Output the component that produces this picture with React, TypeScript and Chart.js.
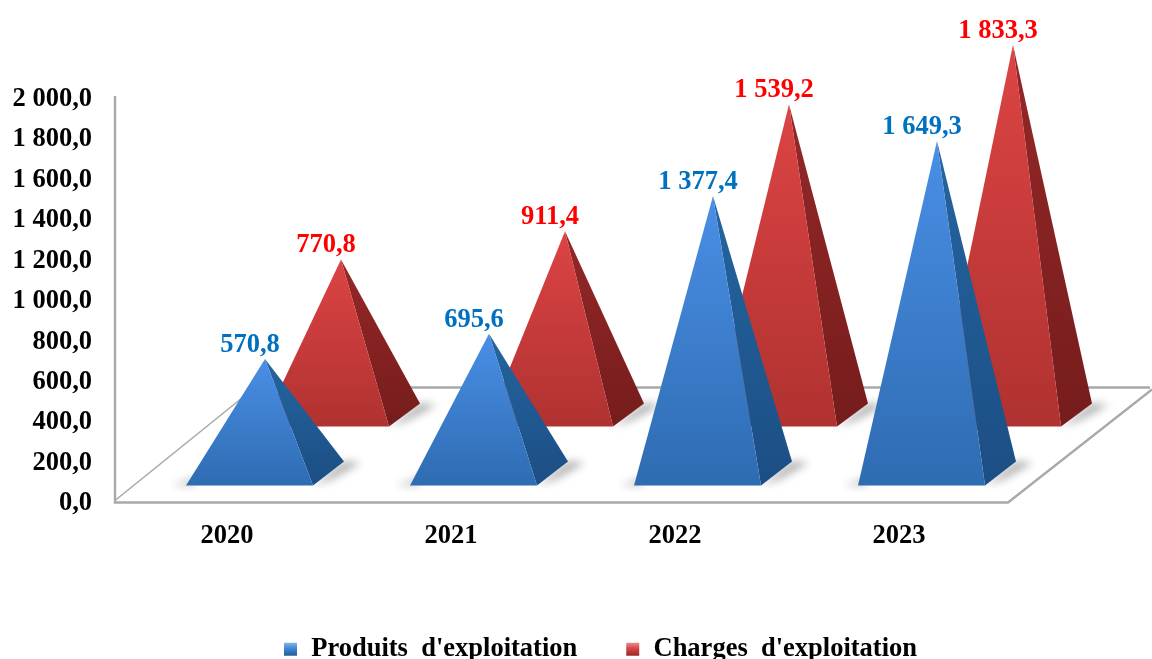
import React, { useEffect, useRef } from "react";
import { Chart, registerables } from "chart.js";

Chart.register(...registerables);

const categories = ["2020", "2021", "2022", "2023"];
const produits = [570.8, 695.6, 1377.4, 1649.3];
const charges = [770.8, 911.4, 1539.2, 1833.3];
const seriesNames = ["Produits  d'exploitation", "Charges  d'exploitation"];
const labelColors = ["#0070C0", "#FF0000"];

const FONT = '"Liberation Serif", serif';
const TEXT_SIZE = 26.5;
// [front top, front bottom, side top, side bottom]
const palette = [
  ["#4a8fe6", "#2e6cb2", "#24659f", "#1c4e84"],
  ["#dc4444", "#b03230", "#952828", "#761c1c"],
];
const depth = [
  { lift: 26, frontY: 15, backY: 39 },
  { lift: 85, frontY: 74, backY: 97 },
];

function fmt(v: number): string {
  const [i, d] = v.toFixed(1).split(".");
  return i.replace(/\B(?=(\d{3})+$)/g, " ") + "," + d;
}

function marker(a: string, b: string, c: string): HTMLCanvasElement {
  const cv = document.createElement("canvas");
  cv.width = 15;
  cv.height = 15;
  const g = cv.getContext("2d")!;
  const gr = g.createLinearGradient(0, 0, 0, 15);
  gr.addColorStop(0, c);
  gr.addColorStop(0.45, a);
  gr.addColorStop(1, b);
  g.fillStyle = gr;
  g.fillRect(1, 1, 13, 13);
  return cv;
}

function poly(ctx: CanvasRenderingContext2D, pts: number[][], fill: any) {
  ctx.beginPath();
  pts.forEach((p, i) => (i ? ctx.lineTo(p[0], p[1]) : ctx.moveTo(p[0], p[1])));
  ctx.closePath();
  ctx.fillStyle = fill;
  ctx.fill();
}

const pyramids = {
  id: "pyramids",
  afterLayout(chart: any) {
    if (chart.legend) {
      chart.legend.left = 48;
      chart.legend.right = 1152;
      chart.legend.top = 588;
    }
  },
  beforeDatasetsDraw(chart: any) {
    const { ctx, chartArea: a } = chart;
    ctx.save();
    ctx.strokeStyle = "#a9a9a9";
    ctx.lineWidth = 2.4;
    ctx.beginPath();
    ctx.moveTo(a.left, a.top);
    ctx.lineTo(a.left, a.bottom + 2);
    ctx.lineTo(a.right - 3, a.bottom + 2);
    ctx.lineTo(a.right + 141, a.bottom - 111);
    ctx.stroke();
    ctx.lineWidth = 1.6;
    ctx.beginPath();
    ctx.moveTo(a.left, a.bottom);
    ctx.lineTo(a.left + 140, a.bottom - 113);
    ctx.stroke();
    ctx.lineWidth = 2.6;
    ctx.beginPath();
    ctx.moveTo(a.left + 140, a.bottom - 113);
    ctx.lineTo(a.right + 139, a.bottom - 113);
    ctx.stroke();
    ctx.restore();
  },
  afterDatasetsDraw(chart: any) {
    const { ctx, chartArea: a } = chart;
    [1, 0].forEach((ds) => {
      const meta = chart.getDatasetMeta(ds);
      const c = palette[ds];
      const d = depth[ds];
      meta.data.forEach((bar: any) => {
        const ax = bar.x + 76;
        const ay = bar.y - d.lift;
        const fy = a.bottom - d.frontY;
        const by = a.bottom - d.backY;
        const fl = ax - 79;
        const fr = ax + 48;
        const br = ax + 79;
        ctx.save();
        ctx.filter = "blur(4px)";
        poly(ctx, [[fr, fy], [br, by], [br + 17, by + 1], [fr + 18, fy - 6]], "rgba(90,90,90,0.5)");
        poly(ctx, [[fl - 14, fy], [fl + 6, fy], [fl + 14, fy - 10]], "rgba(90,90,90,0.4)");
        ctx.filter = "blur(0.6px)";
        const gs = ctx.createLinearGradient(0, ay, 0, fy);
        gs.addColorStop(0, c[2]);
        gs.addColorStop(1, c[3]);
        poly(ctx, [[ax, ay], [fr, fy], [br, by]], gs);
        const gf = ctx.createLinearGradient(0, ay, 0, fy);
        gf.addColorStop(0, c[0]);
        gf.addColorStop(1, c[1]);
        poly(ctx, [[ax, ay], [fl, fy], [fr, fy]], gf);
        ctx.restore();
      });
    });
    ctx.save();
    ctx.font = `bold ${TEXT_SIZE}px ${FONT}`;
    ctx.textAlign = "center";
    ctx.textBaseline = "middle";
    [0, 1].forEach((ds) => {
      const meta = chart.getDatasetMeta(ds);
      ctx.fillStyle = labelColors[ds];
      meta.data.forEach((bar: any, i: number) => {
        const v = chart.data.datasets[ds].data[i];
        ctx.fillText(fmt(v), bar.x + 61, bar.y - depth[ds].lift - 14);
      });
    });
    ctx.restore();
  },
};

export default function App() {
  const ref = useRef<HTMLCanvasElement>(null);
  useEffect(() => {
    const markers = [marker("#3f86d6", "#1f568f", "#8fc0ee"), marker("#d84545", "#8f2424", "#ee9a9a")];
    const chart = new Chart(ref.current!, {
      type: "bar",
      data: {
        labels: categories,
        datasets: [
          { label: seriesNames[0], data: produits, backgroundColor: "transparent" },
          { label: seriesNames[1], data: charges, backgroundColor: "transparent" },
        ],
      },
      plugins: [pyramids],
      options: {
        animation: false,
        responsive: false,
        events: [],
        layout: { padding: { top: 96, right: 141, left: 0, bottom: 0 } },
        datasets: { bar: { categoryPercentage: 152 / 224, barPercentage: 1 } },
        scales: {
          x: {
            grid: { display: false },
            border: { display: false },
            ticks: { color: "#000", font: { family: FONT, size: TEXT_SIZE, weight: "bold" }, padding: 12, maxRotation: 0 },
            afterFit(s: any) { s.height = 74; },
          },
          y: {
            min: 0,
            max: 2000,
            grid: { display: false },
            border: { display: false },
            ticks: {
              stepSize: 200,
              autoSkip: false,
              color: "#000",
              padding: 15,
              labelOffset: 3,
              font: { family: FONT, size: TEXT_SIZE, weight: "bold" },
              callback: (v: any) => fmt(Number(v)),
            },
            afterFit(s: any) { s.width = 115; },
          },
        },
        plugins: {
          tooltip: { enabled: false },
          title: { display: false },
          legend: {
            position: "bottom",
            labels: {
              color: "#000",
              boxWidth: 15,
              boxHeight: 15,
              padding: 48,
              usePointStyle: true,
              font: { family: FONT, size: TEXT_SIZE, weight: "bold" },
              generateLabels: () =>
                seriesNames.map((n, i) => ({
                  text: n,
                  pointStyle: markers[i],
                  fontColor: "#000",
                  lineWidth: 0,
                  strokeStyle: "transparent",
                  fillStyle: "transparent",
                  datasetIndex: i,
                  hidden: false,
                })),
            },
          },
        },
      },
    } as any);
    return () => chart.destroy();
  }, []);
  return <canvas ref={ref} width={1152} height={659} style={{ position: "absolute", left: 0, top: 0 }} />;
}
